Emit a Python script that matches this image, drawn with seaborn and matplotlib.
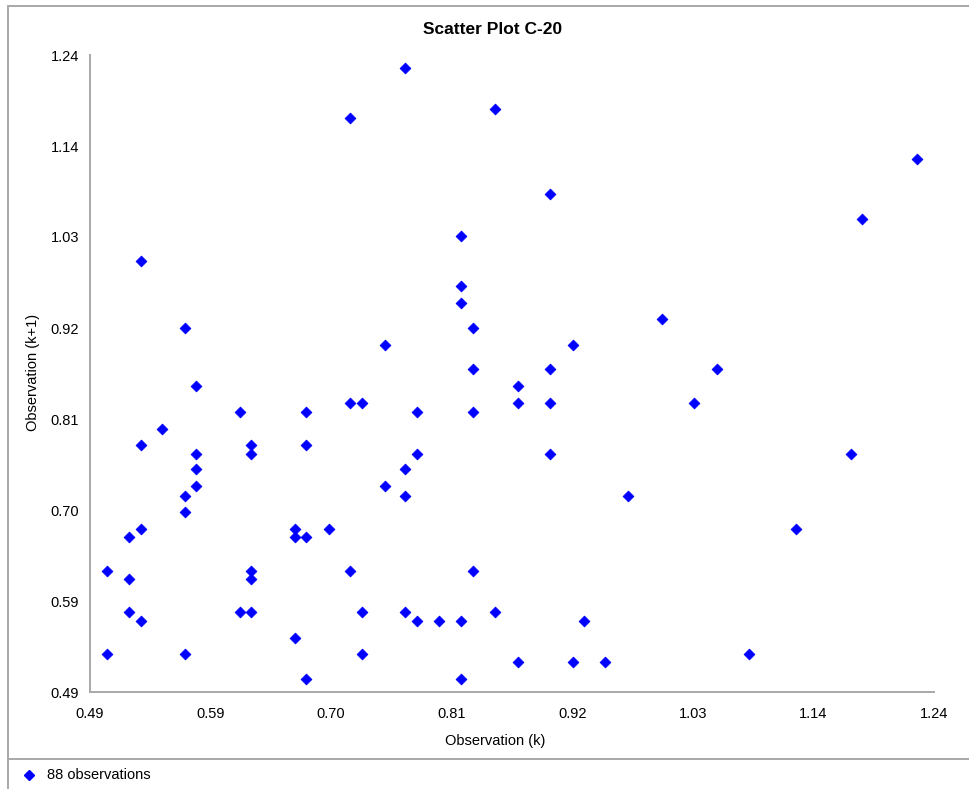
import matplotlib
matplotlib.use("Agg")
import matplotlib.pyplot as plt
import pandas as pd
import seaborn as sns
from matplotlib.lines import Line2D

# lag plot values: observation k vs observation k+1
obs_k = [
    0.721, 0.535, 0.574, 0.770, 0.850, 0.899, 0.820, 0.820, 0.820, 0.830,
    0.752, 0.919, 0.998, 1.225, 1.176, 1.047, 1.027, 1.166, 1.117, 1.076,
    0.830, 0.899, 0.870, 0.870, 0.899, 0.781, 0.830, 0.781, 0.899, 0.770,
    0.752, 0.770, 0.968, 0.830, 0.770, 0.781, 0.800, 0.820, 0.850, 0.929,
    0.870, 0.919, 0.948, 0.820, 0.584, 0.623, 0.682, 0.721, 0.732, 0.554,
    0.535, 0.633, 0.633, 0.682, 0.584, 0.584, 0.584, 0.574, 0.574, 0.535,
    0.525, 0.672, 0.672, 0.682, 0.702, 0.505, 0.525, 0.633, 0.633, 0.721,
    0.525, 0.535, 0.623, 0.633, 0.732, 0.672, 0.505, 0.574, 0.732, 0.682,
]
obs_k1 = [
    1.166, 0.998, 0.919, 1.225, 1.176, 1.076, 1.027, 0.968, 0.948, 0.919,
    0.899, 0.899, 0.929, 1.117, 1.047, 0.870, 0.830, 0.770, 0.682, 0.535,
    0.870, 0.870, 0.850, 0.830, 0.830, 0.820, 0.820, 0.770, 0.770, 0.752,
    0.732, 0.721, 0.721, 0.633, 0.584, 0.574, 0.574, 0.574, 0.584, 0.574,
    0.525, 0.525, 0.525, 0.505, 0.850, 0.820, 0.820, 0.830, 0.830, 0.800,
    0.781, 0.781, 0.770, 0.781, 0.770, 0.752, 0.732, 0.721, 0.702, 0.682,
    0.672, 0.682, 0.672, 0.672, 0.682, 0.633, 0.623, 0.633, 0.623, 0.633,
    0.584, 0.574, 0.584, 0.584, 0.584, 0.554, 0.535, 0.535, 0.535, 0.505,
]
tick_labels = ["0.49", "0.59", "0.70", "0.81", "0.92", "1.03", "1.14", "1.24"]
title = "Scatter Plot C-20"
legend_label = "88 observations"

df = pd.DataFrame({"k": obs_k, "k1": obs_k1})

sns.set_style("white")
plt.rcParams["font.family"] = ["Liberation Sans", "DejaVu Sans"]
plt.rcParams["text.color"] = "black"

W, H = 969, 789
fig = plt.figure(figsize=(W / 100, H / 100), dpi=100)
ax = fig.add_axes([90 / W, 1 - 692 / H, (934 - 90) / W, (692 - 55) / H])

sns.scatterplot(data=df, x="k", y="k1", marker="D", s=30, color="#0000ff",
                edgecolor="#0000ff", linewidth=0.6, ax=ax, legend=False,
                clip_on=False)

lo, hi = 0.49, 1.24
ticks = [lo + i * (hi - lo) / 7 for i in range(8)]
ax.set_xlim(lo, hi)
ax.set_ylim(lo, hi)
ax.set_xticks(ticks)
ax.set_yticks(ticks)
ax.set_xticklabels(tick_labels)
ax.set_yticklabels(tick_labels)
ax.tick_params(direction="out", length=5, width=1.2, color="#a8a8a8",
               labelsize=10.5, labelcolor="black", pad=3)
ax.tick_params(axis="x", pad=6)
for side in ["top", "right"]:
    ax.spines[side].set_visible(False)
for side in ["left", "bottom"]:
    ax.spines[side].set_color("#a8a8a8")
    ax.spines[side].set_linewidth(1.4)
ax.set_xlabel("")
ax.set_ylabel("")

fig.text(493 / W, 1 - 30 / H, title, ha="center", va="center",
         fontsize=12.5, fontweight="bold", color="black")
fig.text(495 / W, 1 - 741 / H, "Observation (k)", ha="center", va="center",
         fontsize=10.5, color="black")
fig.text(33 / W, 1 - 372 / H, "Observation (k+1)", ha="center", va="center",
         rotation=90, fontsize=10.5, color="black")

# frame lines and the legend strip at the bottom
grey = "#a8a8a8"
fig.add_artist(Line2D([8 / W, 8 / W], [0, 1 - 6 / H], color=grey, lw=1.4,
                      transform=fig.transFigure))
fig.add_artist(Line2D([8 / W, 1], [1 - 6 / H, 1 - 6 / H], color=grey, lw=1.4,
                      transform=fig.transFigure))
fig.add_artist(Line2D([8 / W, 1], [1 - 759 / H, 1 - 759 / H], color=grey,
                      lw=1.4, transform=fig.transFigure))
fig.add_artist(Line2D([29 / W], [1 - 775 / H], marker="D", markersize=5.4,
                      color="#0000ff", linestyle="none",
                      transform=fig.transFigure))
fig.text(47 / W, 1 - 775 / H, legend_label, ha="left", va="center",
         fontsize=10.5, color="black")

fig.savefig("out.png", dpi=100)
